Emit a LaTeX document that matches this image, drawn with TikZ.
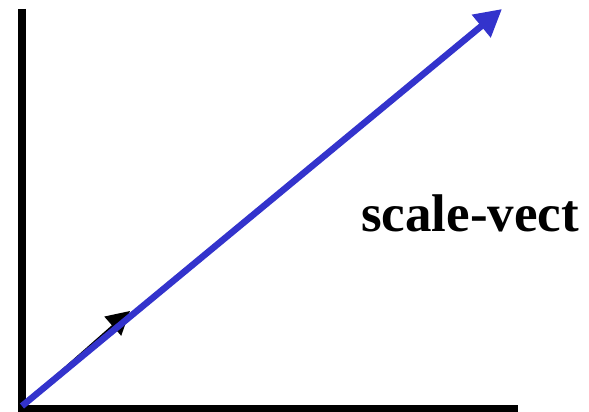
\documentclass[tikz,border=0pt]{standalone}
\usepackage{fontspec}
\setmainfont{Liberation Serif}
\usetikzlibrary{arrows.meta}
\definecolor{vecblue}{RGB}{51,51,204}
\begin{document}
\begin{tikzpicture}[x=1pt,y=-1pt,
  axis/.style={line width=7.5pt,black},
  smallvec/.style={line width=2.6pt,black,-{Triangle[length=23pt 0 0,width=25pt 0 0]}},
  bigvec/.style={line width=6.5pt,vecblue,-{Triangle[length=27pt 0 0,width=28pt 0 0]}},
  lbl/.style={font=\fontsize{53}{61}\selectfont\bfseries,inner sep=0pt,anchor=base west}]
\useasboundingbox (0,0) rectangle (589,412);
\coordinate (top) at (22,9);
\coordinate (corner) at (22,412);
\coordinate (hl) at (18,408.5);
\coordinate (right) at (518,408.5);
\coordinate (o) at (22,406);
\coordinate (s) at (130,311);
\coordinate (b) at (502,9);
\draw[axis] (top) -- (corner);
\draw[axis] (hl) -- (right);
\draw[smallvec] (o) -- (s);
\draw[bigvec] (o) -- (b);
\node[lbl] (t) at (361,231) {scale-vect};
\end{tikzpicture}
\end{document}
